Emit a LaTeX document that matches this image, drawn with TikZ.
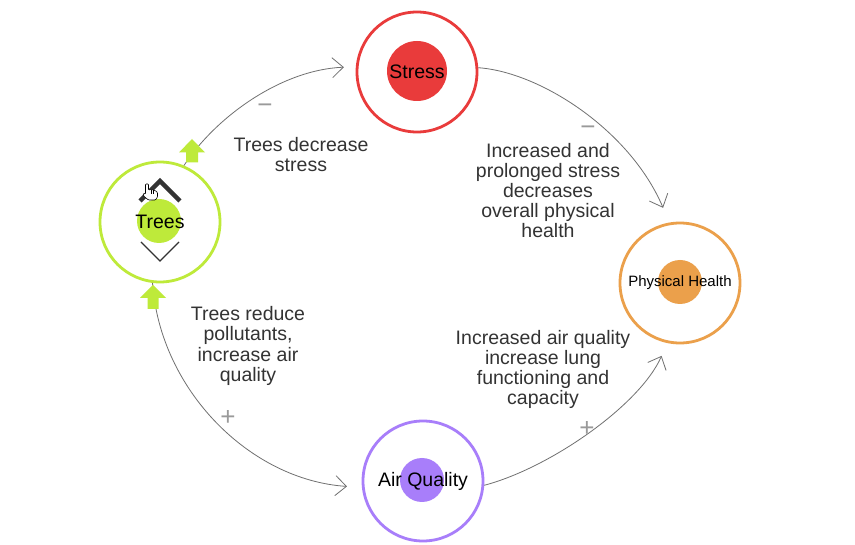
\documentclass[tikz,border=0pt]{standalone}
\usepackage{fontspec}
\setmainfont{Liberation Sans}
\usetikzlibrary{arrows.meta}
\definecolor{stressred}{HTML}{E93B3B}
\definecolor{treegreen}{HTML}{BEEA3A}
\definecolor{healthorange}{HTML}{EBA04B}
\definecolor{airpurple}{HTML}{A87EFA}
\definecolor{linkgray}{HTML}{707070}
\definecolor{signgray}{HTML}{9A9A9A}

\begin{document}
\begin{tikzpicture}[x=1pt,y=-1pt,
  ring/.style={circle, draw=#1, line width=2.8pt, minimum size=120pt, inner sep=0pt},
  nodetext/.style={font=\fontsize{19.5}{20}\selectfont},
  link/.style={draw=linkgray, line width=0.8pt, -{Straight Barb[length=11pt,width=20pt,line width=0.8pt]}},
  caption/.style={align=center, font=\fontsize{19.5}{20.2}\selectfont, text=black!80},
  sign/.style={text=signgray, font=\fontsize{26}{26}\selectfont}
]

\fill[white] (0,0) rectangle (855,545);
\useasboundingbox (0,0) rectangle (855,545);

% the four factors
\fill[stressred] (417,71) circle (30pt);
\node[ring=stressred, nodetext] (stress) at (417,72) {Stress};

\fill[treegreen] (159,221) circle (22pt);
\node[ring=treegreen, nodetext] (trees) at (160,222) {Trees};

\fill[healthorange] (680,282) circle (22pt);
\node[ring=healthorange, font=\fontsize{15}{16}\selectfont] (health) at (680,283) {Physical Health};

\fill[airpurple] (422,480) circle (22pt);
\node[ring=airpurple, nodetext] (air) at (423,481) {Air Quality};

% links
\draw[link, shorten >=12pt] (trees.67) .. controls (215,118) and (280,70) .. (stress.175);
\draw[link, shorten >=16pt] (stress.4) .. controls (540,72) and (630,130) .. (health.100);
\draw[link, shorten >=14pt] (air.-4) .. controls (550,468) and (640,405) .. (health.-102);
\draw[link, shorten >=15pt] (trees.-97) .. controls (160,390) and (250,480) .. (air.186);

% green up arrows on the trees
\fill[treegreen] (192,139) -- (205,152.5) -- (198,152.5) -- (198,162.5) -- (186,162.5) -- (186,152.5) -- (179,152.5) -- cycle;
\fill[treegreen] (153,285) -- (166,298) -- (158.5,298) -- (158.5,309) -- (147.5,309) -- (147.5,298) -- (140,298) -- cycle;

% chevrons
\draw[color=black!80, line width=4.5pt, miter limit=10] (140,201) -- (160,181) -- (180,201);
\draw[color=black!80, line width=1.3pt] (141,242) -- (160,261) -- (179,242);

% cursor
\filldraw[fill=white, draw=black, line width=0.6pt, rounded corners=0.8pt]
(145.5,194) -- (145.5,184) -- (148.5,184) -- (148.5,190) -- (151,189.5) -- (153.5,190) -- (156,191) -- (157.5,192.5) -- (157.5,197) -- (155.5,200) -- (148.5,200) -- (144,196.5) -- (143,193.5) -- cycle;
\draw[line width=0.5pt] (151,190) -- (151,194);
\draw[line width=0.5pt] (153.5,190.5) -- (153.5,194);

% texts
\node[caption] (treestress) at (301,154.5) {Trees decrease\\stress};
\node[caption] (stresshealth) at (548,190.5) {Increased and\\prolonged stress\\decreases\\overall physical\\health};
\node[caption] (treeair) at (248,346) {Trees reduce\\pollutants,\\increase air\\quality};
\node[caption] (airhealth) at (543,369.5) {Increased air quality\\increase lung\\functioning and\\capacity};

\node[sign] (signA) at (265,109) {−};
\node[sign] (signB) at (588,131) {−};
\node[sign] (signC) at (228,418) {+};
\node[sign] (signD) at (587,429) {+};

\end{tikzpicture}
\end{document}
